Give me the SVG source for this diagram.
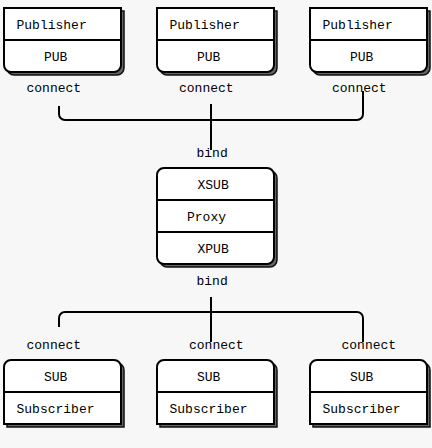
<svg xmlns="http://www.w3.org/2000/svg" xmlns:xlink="http://www.w3.org/1999/xlink" width="432" height="448" viewBox="0 0 432 448">
<style>
.shadow{fill:#666;stroke:#111;stroke-width:1.5}
.box{fill:#fff;stroke:#000;stroke-width:2}
.div{fill:none;stroke:#000;stroke-width:2}
.conn{fill:none;stroke:#000;stroke-width:2}
text{font-family:"Liberation Mono","DejaVu Sans Mono",monospace;font-size:13px;fill:#000}
</style>
<defs>
<path id="pubShape" d="M0,0 H117 V57 A7,7 0 0 1 110,64 H7 A7,7 0 0 1 0,57 Z"/>
<path id="subShape" d="M0,64 V7 A7,7 0 0 1 7,0 H110 A7,7 0 0 1 117,7 V64 Z"/>
<rect id="proxyShape" x="0" y="0" width="117" height="96" rx="7" ry="7"/>
</defs>
<rect x="0" y="0" width="432" height="448" fill="#f7f7f7"/>

<g id="connectors">
<path class="conn" d="M59,106 V114 A6,6 0 0 0 65,120 H357 A6,6 0 0 0 363,114 V91"/>
<path class="conn" d="M211,104 V150"/>
<path class="conn" d="M59,327 V318 A6,6 0 0 1 65,312 H357 A6,6 0 0 1 363,318 V342"/>
<path class="conn" d="M211,297 V342"/>
<text x="26.5" y="92">connect</text>
<text x="179" y="92">connect</text>
<text x="332" y="92">connect</text>
<text x="196.5" y="156.5">bind</text>
<text x="196.5" y="285">bind</text>
<text x="26.5" y="348.5">connect</text>
<text x="189" y="348.5">connect</text>
<text x="341.5" y="348.5">connect</text>
</g>

<g id="publisher1" transform="translate(4,8)">
<use href="#pubShape" class="shadow" x="3" y="3"/>
<use href="#pubShape" class="box"/>
<path class="div" d="M0,32 H117"/>
<text x="12.5" y="21">Publisher</text>
<text x="40" y="53">PUB</text>
</g>
<g id="publisher2" transform="translate(157,8)">
<use href="#pubShape" class="shadow" x="3" y="3"/>
<use href="#pubShape" class="box"/>
<path class="div" d="M0,32 H117"/>
<text x="12.5" y="21">Publisher</text>
<text x="40" y="53">PUB</text>
</g>
<g id="publisher3" transform="translate(310,8)">
<use href="#pubShape" class="shadow" x="3" y="3"/>
<use href="#pubShape" class="box"/>
<path class="div" d="M0,32 H117"/>
<text x="12.5" y="21">Publisher</text>
<text x="40" y="53">PUB</text>
</g>

<g id="proxy" transform="translate(157,168)">
<use href="#proxyShape" class="shadow" x="3" y="3"/>
<use href="#proxyShape" class="box"/>
<path class="div" d="M0,32 H117 M0,64 H117"/>
<text x="40.5" y="20.5">XSUB</text>
<text x="30" y="52.5">Proxy</text>
<text x="40.5" y="85">XPUB</text>
</g>

<g id="subscriber1" transform="translate(4,360)">
<use href="#subShape" class="shadow" x="3" y="3"/>
<use href="#subShape" class="box"/>
<path class="div" d="M0,32 H117"/>
<text x="40" y="21">SUB</text>
<text x="12.5" y="52.5">Subscriber</text>
</g>
<g id="subscriber2" transform="translate(157,360)">
<use href="#subShape" class="shadow" x="3" y="3"/>
<use href="#subShape" class="box"/>
<path class="div" d="M0,32 H117"/>
<text x="40" y="21">SUB</text>
<text x="12.5" y="52.5">Subscriber</text>
</g>
<g id="subscriber3" transform="translate(310,360)">
<use href="#subShape" class="shadow" x="3" y="3"/>
<use href="#subShape" class="box"/>
<path class="div" d="M0,32 H117"/>
<text x="40" y="21">SUB</text>
<text x="12.5" y="52.5">Subscriber</text>
</g>
</svg>
